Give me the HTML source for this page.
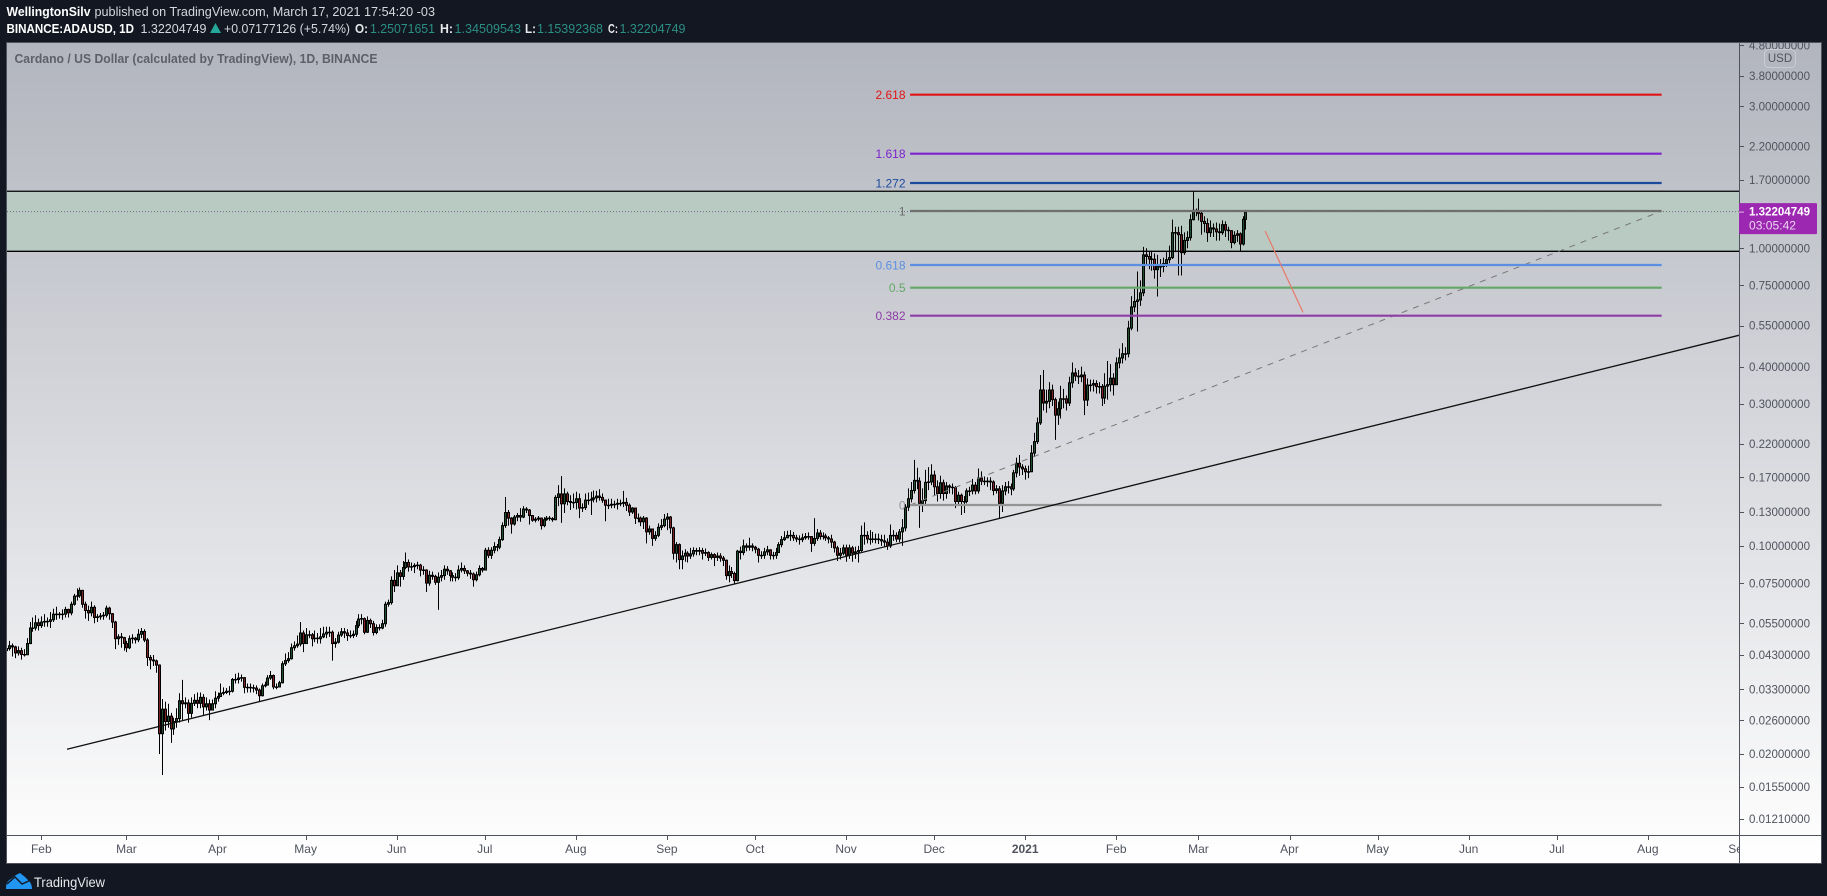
<!DOCTYPE html>
<html lang="en">
<head>
<meta charset="utf-8">
<title>Cardano / US Dollar chart</title>
<style>
html,body{margin:0;padding:0;background:#131722;width:1827px;height:896px;overflow:hidden}
svg{display:block;font-family:"Liberation Sans",sans-serif}
</style>
</head>
<body>
<svg id="root" xmlns="http://www.w3.org/2000/svg" width="1827" height="896" viewBox="0 0 1827 896">
<defs>
<linearGradient id="bgGrad" x1="0" y1="0" x2="0" y2="1"><stop offset="0" stop-color="#b2b5be"/><stop offset="1" stop-color="#ffffff"/></linearGradient>
<clipPath id="plotClip"><rect x="7" y="43" width="1732" height="792"/></clipPath>
<clipPath id="priceClip"><rect x="1739" y="43" width="82" height="792"/></clipPath>
<clipPath id="timeClip"><rect x="7" y="835" width="1732" height="28"/></clipPath>
</defs>
<rect x="0" y="0" width="1827" height="896" fill="#131722"/>
<text x="6.5" y="16" font-size="13" font-weight="bold" fill="#ffffff" textLength="84" lengthAdjust="spacingAndGlyphs">WellingtonSilv</text>
<text x="94.5" y="16" font-size="13" fill="#d6d8de" textLength="340.5" lengthAdjust="spacingAndGlyphs">published on TradingView.com, March 17, 2021 17:54:20 -03</text>
<g font-size="13">
<text x="6.5" y="33" font-weight="bold" fill="#ffffff" textLength="127.5" lengthAdjust="spacingAndGlyphs">BINANCE:ADAUSD, 1D</text>
<text x="140.5" y="33" fill="#d6d8de" textLength="66" lengthAdjust="spacingAndGlyphs">1.32204749</text>
<polygon points="210,33 221,33 215.5,23" fill="#26a69a"/>
<text x="224" y="33" fill="#d6d8de" textLength="126" lengthAdjust="spacingAndGlyphs">+0.07177126 (+5.74%)</text>
<text x="355" y="33" font-weight="bold" fill="#e8e9ec" textLength="13" lengthAdjust="spacingAndGlyphs">O:</text>
<text x="370" y="33" fill="#2b8f84" textLength="65" lengthAdjust="spacingAndGlyphs">1.25071651</text>
<text x="440" y="33" font-weight="bold" fill="#e8e9ec" textLength="13" lengthAdjust="spacingAndGlyphs">H:</text>
<text x="454.5" y="33" fill="#2b8f84" textLength="66.5" lengthAdjust="spacingAndGlyphs">1.34509543</text>
<text x="525" y="33" font-weight="bold" fill="#e8e9ec" textLength="11" lengthAdjust="spacingAndGlyphs">L:</text>
<text x="537" y="33" fill="#2b8f84" textLength="66" lengthAdjust="spacingAndGlyphs">1.15392368</text>
<text x="608" y="33" font-weight="bold" fill="#e8e9ec" textLength="10" lengthAdjust="spacingAndGlyphs">C:</text>
<text x="619.5" y="33" fill="#2b8f84" textLength="66" lengthAdjust="spacingAndGlyphs">1.32204749</text>
</g>
<rect x="6.5" y="42.5" width="1815" height="821" fill="url(#bgGrad)" stroke="#50535e" stroke-width="1"/>
<g id="zone"></g>
<g id="candles" clip-path="url(#plotClip)"></g>
<g id="drawings" clip-path="url(#plotClip)"></g>
<text x="14.5" y="63" font-size="13" font-weight="bold" fill="#5d606b" textLength="363" lengthAdjust="spacingAndGlyphs">Cardano / US Dollar (calculated by TradingView), 1D, BINANCE</text>
<line x1="1739.5" y1="43" x2="1739.5" y2="863" stroke="#50535e"/>
<line x1="7" y1="835.5" x2="1821" y2="835.5" stroke="#50535e"/>
<g id="priceAxis" clip-path="url(#priceClip)"></g>
<g id="timeAxis" clip-path="url(#timeClip)"></g>
<g id="lastPrice"></g>
<g>
<rect x="1764.5" y="49.5" width="31" height="18" rx="4" fill="none" stroke="#c9ccd3"/>
<text x="1780" y="62" font-size="11.5" fill="#50535e" text-anchor="middle">USD</text>
</g>
<g>
<path d="M6 889 C6 884 7 881 11 879 L16 875 L20 873 L25 877 L29 881 C31 883 32 886 32 889 Z" fill="#2196f3"/>
<path d="M7 884 L15 877 L22 884 L31 880" fill="none" stroke="#131722" stroke-width="1.4"/>
<text x="34" y="887" font-size="14" fill="#e8e9ec" textLength="71" lengthAdjust="spacingAndGlyphs">TradingView</text>
</g>
<script>
const firstDay = -12;
const firstOpen = 0.0445;
const closes = [
.0452,.0462,.0458,.0437,.0445,.0432,.0431,.0470,.0530,.0530,.0552,.0540,
.0555,.0558,.0558,.0565,.0590,.0588,.0590,.0590,.0612,.0596,.0637,.0678,.0680,.0709,.0637,.0607,.0596,.0622,.0575,.0578,.0582,.0585,.0618,.0592,.0555,.0488,.0495,.0492,.0470,
.0455,.0488,.0490,.0484,.0505,.0516,.0483,.0422,.0414,.0411,.0398,.0234,.0283,.0257,.0268,.0243,.0257,.0263,.0302,.0295,.0297,.0274,.0296,.0303,.0296,.0310,.0288,.0295,.0281,.0295,.0308,
.0312,.0320,.0322,.0325,.0325,.0356,.0356,.0360,.0361,.0335,.0335,.0334,.0333,.0328,.0314,.0339,.0341,.0360,.0367,.0336,.0336,.0347,.0402,.0412,.0418,.0455,.0462,.0468,.0510,.0470,
.0503,.0503,.0488,.0490,.0488,.0495,.0506,.0513,.0513,.0470,.0475,.0502,.0515,.0510,.0500,.0500,.0505,.0540,.0568,.0570,.0513,.0562,.0548,.0512,.0532,.0530,.0548,.0637,.0645,.0766,.0735,
.0812,.0790,.0846,.0880,.0850,.0852,.0860,.0862,.0830,.0830,.0750,.0797,.0790,.0755,.0785,.0795,.0835,.0825,.0795,.0785,.0782,.0830,.0840,.0825,.0810,.0805,.0770,.0800,.0840,.0830,
.0967,.0930,.0967,.0995,.0990,.1050,.1170,.1295,.1240,.1185,.1250,.1265,.1250,.1330,.1320,.1265,.1220,.1230,.1240,.1170,.1225,.1240,.1235,.1225,.1455,.1495,.1385,.1495,.1410,.1400,.1400,
.1440,.1340,.1345,.1425,.1425,.1435,.1450,.1470,.1455,.1425,.1370,.1370,.1380,.1380,.1390,.1390,.1400,.1370,.1300,.1340,.1240,.1240,.1205,.1240,.1115,.1140,.1060,.1085,.1155,.1170,.1230,
.1250,.1150,.0945,.1010,.0900,.0925,.0945,.0925,.0940,.0965,.0960,.0965,.0945,.0950,.0915,.0935,.0915,.0925,.0910,.0895,.0795,.0820,.0808,.0765,.0960,.0950,.1000,.0990,.1000,.0990,
.0975,.0930,.0930,.0955,.0970,.0930,.0930,.0950,.1010,.1050,.1065,.1085,.1085,.1065,.1055,.1050,.1065,.1075,.1075,.1020,.1060,.1105,.1075,.1080,.1065,.1055,.1030,.0985,.0930,.0945,.0985,
.0930,.0985,.0945,.0955,.0965,.1085,.1085,.1055,.1055,.1055,.1055,.1050,.1040,.1030,.1000,.1085,.1085,.1055,.1115,.1150,.1350,.1440,.1535,.1660,.1650,.1390,.1420,.1635,.1640,.1730,
.1580,.1500,.1630,.1500,.1590,.1575,.1570,.1410,.1480,.1410,.1410,.1530,.1530,.1600,.1530,.1690,.1650,.1650,.1650,.1640,.1535,.1555,.1390,.1530,.1580,.1580,.1555,.1760,.1895,.1840,.1815,
.1775,.1775,.2050,.2240,.2590,.3340,.3020,.3060,.3340,.3100,.2750,.2890,.3120,.3120,.3020,.3530,.3810,.3720,.3700,.3750,.3090,.3470,.3470,.3510,.3430,.3430,.3140,.3440,.3480,.3660,.3480,
.4120,.4280,.4420,.4420,.5390,.6350,.6620,.6700,.7080,.9500,.9380,.9200,.9180,.8470,.8680,.8680,.8880,.9150,.9300,1.128,1.128,1.110,.9660,1.062,1.085,1.247,1.340,1.330,
1.310,1.230,1.210,1.128,1.170,1.160,1.135,1.128,1.200,1.150,1.145,1.045,1.105,1.118,1.033,1.250,1.322
];
const highs = [
.0475,.0480,.0470,.0462,.0460,.0455,.0450,.0490,.0555,.0575,.0585,.0570,
.0580,.0590,.0575,.0600,.0615,.0625,.0600,.0612,.0625,.0615,.0650,.0690,.0720,.0725,.0712,.0650,.0630,.0650,.0632,.0590,.0595,.0600,.0630,.0625,.0595,.0560,.0505,.0510,.0495,
.0480,.0500,.0505,.0495,.0525,.0530,.0525,.0490,.0430,.0430,.0415,.0400,.0306,.0300,.0295,.0275,.0265,.0285,.0320,.0355,.0310,.0305,.0310,.0318,.0322,.0322,.0318,.0310,.0305,.0305,.0325,
.0322,.0345,.0335,.0333,.0338,.0360,.0372,.0375,.0370,.0362,.0345,.0345,.0342,.0340,.0332,.0345,.0350,.0368,.0380,.0370,.0345,.0352,.0410,.0435,.0440,.0470,.0478,.0500,.0555,.0520,
.0530,.0520,.0510,.0520,.0510,.0530,.0535,.0535,.0535,.0520,.0490,.0515,.0530,.0530,.0525,.0520,.0520,.0560,.0590,.0590,.0575,.0580,.0570,.0560,.0545,.0545,.0565,.0650,.0660,.0790,.0830,
.0860,.0830,.0890,.0950,.0900,.0880,.0875,.0885,.0870,.0855,.0835,.0825,.0820,.0800,.0815,.0830,.0860,.0855,.0830,.0815,.0810,.0860,.0880,.0860,.0830,.0830,.0815,.0820,.0860,.0850,
.0985,.0990,.0990,.1030,.1015,.1075,.1200,.1460,.1320,.1250,.1270,.1290,.1340,.1360,.1350,.1330,.1265,.1250,.1260,.1245,.1250,.1260,.1260,.1250,.1480,.1600,.1715,.1560,.1520,.1480,.1500,
.1520,.1500,.1390,.1500,.1510,.1520,.1535,.1530,.1550,.1500,.1430,.1440,.1440,.1420,.1440,.1430,.1530,.1450,.1390,.1350,.1345,.1285,.1255,.1260,.1250,.1170,.1140,.1120,.1190,.1230,.1280,
.1290,.1260,.1160,.1030,.1020,.0965,.0975,.0960,.0985,.0990,.0985,.0990,.0985,.0980,.0960,.0950,.0945,.0950,.0945,.0925,.0900,.0860,.0850,.0820,.0970,.0995,.1050,.1020,.1065,.1020,
.1000,.0985,.0960,.0985,.1000,.0975,.0955,.0985,.1030,.1080,.1120,.1125,.1130,.1115,.1090,.1085,.1100,.1105,.1110,.1080,.1240,.1140,.1130,.1110,.1100,.1080,.1090,.1040,.1000,.0985,.1010,
.1010,.1010,.1000,.0995,.1000,.1170,.1200,.1120,.1130,.1115,.1100,.1100,.1090,.1090,.1060,.1180,.1130,.1110,.1140,.1230,.1380,.1560,.1640,.1945,.1830,.1700,.1560,.1800,.1840,.1880,
.1790,.1660,.1720,.1670,.1640,.1610,.1620,.1590,.1520,.1500,.1470,.1560,.1580,.1680,.1640,.1820,.1780,.1710,.1700,.1700,.1660,.1600,.1590,.1600,.1640,.1650,.1620,.1800,.1980,.2020,.1880,
.1860,.1860,.2180,.2400,.2700,.3750,.3900,.3350,.3550,.3480,.3150,.3050,.3450,.3370,.3200,.3700,.4130,.3950,.3900,.4000,.3850,.3650,.3620,.3620,.3600,.3550,.3500,.3800,.4180,.4080,.3800,
.4300,.4600,.4800,.4650,.5700,.6900,.7300,.8350,.7800,1.010,1.000,.9800,.9800,.9600,.9500,.9200,.9300,.9700,1.020,1.247,1.180,1.180,1.190,1.130,1.140,1.300,1.553,1.360,
1.467,1.340,1.280,1.260,1.240,1.210,1.220,1.210,1.240,1.230,1.180,1.150,1.140,1.150,1.130,1.280,1.345
];
const lows = [
.0435,.0445,.0425,.0420,.0428,.0415,.0425,.0430,.0468,.0515,.0520,.0520,
.0530,.0535,.0535,.0530,.0555,.0565,.0570,.0565,.0575,.0575,.0585,.0630,.0655,.0670,.0620,.0570,.0560,.0580,.0550,.0555,.0565,.0565,.0575,.0565,.0530,.0450,.0465,.0455,.0445,
.0440,.0450,.0470,.0470,.0475,.0490,.0475,.0395,.0385,.0395,.0375,.0200,.0170,.0240,.0245,.0218,.0232,.0245,.0255,.0260,.0285,.0255,.0265,.0290,.0285,.0285,.0270,.0280,.0260,.0280,.0285,
.0300,.0312,.0315,.0318,.0315,.0322,.0345,.0345,.0350,.0320,.0322,.0322,.0322,.0318,.0300,.0312,.0335,.0340,.0355,.0330,.0330,.0335,.0345,.0395,.0405,.0415,.0445,.0455,.0460,.0440,
.0470,.0490,.0460,.0475,.0470,.0470,.0490,.0490,.0495,.0412,.0455,.0470,.0495,.0490,.0480,.0490,.0490,.0495,.0530,.0545,.0505,.0510,.0530,.0500,.0505,.0520,.0525,.0535,.0625,.0635,.0700,
.0750,.0730,.0770,.0835,.0820,.0825,.0810,.0835,.0790,.0800,.0700,.0735,.0770,.0740,.0610,.0760,.0770,.0800,.0760,.0760,.0760,.0770,.0815,.0805,.0790,.0775,.0730,.0760,.0790,.0815,
.0830,.0910,.0905,.0945,.0960,.0975,.1040,.1150,.1170,.1100,.1170,.1210,.1205,.1240,.1290,.1180,.1205,.1200,.1210,.1135,.1155,.1215,.1215,.1205,.1220,.1360,.1195,.1290,.1370,.1320,.1340,
.1325,.1240,.1300,.1320,.1375,.1270,.1400,.1400,.1420,.1395,.1210,.1330,.1340,.1340,.1325,.1360,.1350,.1310,.1260,.1280,.1185,.1200,.1165,.1140,.1020,.1090,.1000,.1040,.1070,.1130,.1155,
.1130,.1100,.0900,.0880,.0835,.0835,.0885,.0880,.0905,.0920,.0930,.0930,.0900,.0925,.0890,.0900,.0855,.0890,.0885,.0855,.0770,.0755,.0780,.0745,.0760,.0900,.0930,.0960,.0965,.0960,
.0945,.0880,.0905,.0905,.0930,.0900,.0900,.0905,.0950,.0990,.1040,.1060,.1040,.1040,.1030,.1010,.1030,.1050,.1050,.0955,.1000,.1040,.1050,.1050,.1040,.1020,.0985,.0950,.0890,.0900,.0930,
.0885,.0905,.0885,.0905,.0880,.0955,.1010,.1020,.1010,.1025,.1020,.1015,.1000,.0990,.0970,.0985,.1040,.1030,.1030,.1000,.1120,.1310,.1400,.1500,.1550,.1150,.1300,.1380,.1540,.1600,
.1480,.1410,.1440,.1420,.1440,.1500,.1490,.1340,.1370,.1270,.1290,.1390,.1470,.1490,.1490,.1500,.1600,.1600,.1580,.1540,.1480,.1500,.1240,.1300,.1480,.1500,.1480,.1530,.1700,.1720,.1730,
.1670,.1690,.1770,.1990,.2200,.2550,.2850,.2800,.2900,.2950,.2270,.2550,.2680,.2900,.2850,.2950,.3400,.3580,.3500,.3550,.2750,.2950,.3300,.3300,.3250,.3250,.2950,.3000,.3100,.3300,.3200,
.3500,.3950,.4100,.4200,.4300,.5300,.6100,.5250,.6400,.6900,.8800,.8500,.8400,.7900,.6880,.8000,.8300,.8650,.8900,.9200,.9700,.8100,.8100,.9500,1.000,1.060,1.240,1.280,
1.240,1.110,1.130,1.050,1.090,1.090,1.060,1.060,1.110,1.090,1.060,1.000,1.030,1.050,.9800,1.020,1.154
];
const priceTicks = [4.8,3.8,3,2.2,1.7,1,0.75,0.55,0.4,0.3,0.22,0.17,0.13,0.1,0.075,0.055,0.043,0.033,0.026,0.02,0.0155,0.0121];
const monthLabels = ["Feb","Mar","Apr","May","Jun","Jul","Aug","Sep","Oct","Nov","Dec","2021","Feb","Mar","Apr","May","Jun","Jul","Aug","Sep"];
const monthDays = [0,29,60,90,121,151,182,213,243,274,304,335,366,394,425,455,486,516,547,578];
const fibNames = ["2.618","1.618","1.272","1","0.618","0.5","0.382","0"];
const fibPrices = [3.278,2.077,1.656,1.333,0.878,0.7367,0.5933,0.1372];
const fibColors = ["#e01414","#7d22cc","#1c4a9c","#6f6f6f","#5b8fe2","#62a866","#8e3ca6","#959595"];
const fibStartDay = 295.8;
const fibEndDay = 551.7;
const zonePrices = [1.553,0.9763];
const supportDays = [8.75,578];
const supportPrices = [0.02075,0.5098];
const targetDays = [416.7,429.6];
const targetPrices = [1.142,0.6086];
const lastPrice = 1.32204749;
const countdown = "03:05:42";

const SVGNS = "http://www.w3.org/2000/svg";
function xOf(day){ return 41.3 + 2.937 * day; }
function yOf(price){ return 248.2 - 129.3 * Math.log(price); }
function make(tag, attrs, parent, text){
  const el = document.createElementNS(SVGNS, tag);
  for (const k in attrs) el.setAttribute(k, attrs[k]);
  if (text !== undefined) el.textContent = text;
  parent.appendChild(el);
  return el;
}

const zoneG = document.getElementById("zone");
const zoneTop = yOf(zonePrices[0]), zoneBottom = yOf(zonePrices[1]);
const zoneFill = make("rect", {x:7, y:zoneTop, width:1732, height:zoneBottom-zoneTop, fill:"#b9cac3"}, zoneG);



const candleG = document.getElementById("candles");
closes.forEach(function(close, i){
  const open = i === 0 ? firstOpen : closes[i-1];
  const cx = Math.round(xOf(firstDay + i)) + 0.5;
  const up = close >= open;
  const wick = make("line", {x1:cx, x2:cx, y1:yOf(highs[i]), y2:yOf(lows[i]), stroke:"#000", "stroke-width":1}, candleG);
  
  
  const top = yOf(Math.max(open, close)), bot = yOf(Math.min(open, close));
  const body = make("rect", {x:cx-1, y:top, width:2, height:Math.max(bot-top, 0.5), fill:up ? "#1f4f2e" : "#7f2222", stroke:"#000", "stroke-width":1}, candleG);
  
  
});

const drawG = document.getElementById("drawings");
const lastLine = make("line", {x1:7, x2:1739, y1:yOf(lastPrice)-0.5, y2:yOf(lastPrice)-0.5, stroke:"#6f6480", "stroke-width":1, "stroke-dasharray":"1 2"}, drawG);


zonePrices.forEach(function(p){
  const zl = make("line", {x1:7, x2:1739, y1:yOf(p), y2:yOf(p), stroke:"#000", "stroke-width":1.3}, drawG);
  
  
});
const fibDiag = make("line", {x1:xOf(fibStartDay), y1:yOf(fibPrices[7]), x2:xOf(fibEndDay), y2:yOf(fibPrices[3]), stroke:"#777", "stroke-width":1, "stroke-dasharray":"6 6"}, drawG);


fibPrices.forEach(function(p, i){
  const l = make("line", {x1:xOf(fibStartDay), x2:xOf(fibEndDay), y1:yOf(p), y2:yOf(p), stroke:fibColors[i], "stroke-width":2.2}, drawG);
  
  
  const t = make("text", {x:905.5, y:yOf(p)+4.5, "font-size":12, fill:fibColors[i], "text-anchor":"end"}, drawG, fibNames[i]);
  
  
});
const support = make("line", {x1:xOf(supportDays[0]), y1:yOf(supportPrices[0]), x2:xOf(supportDays[1]), y2:yOf(supportPrices[1]), stroke:"#111", "stroke-width":1.3}, drawG);


const target = make("line", {x1:xOf(targetDays[0]), y1:yOf(targetPrices[0]), x2:xOf(targetDays[1]), y2:yOf(targetPrices[1]), stroke:"#e8796a", "stroke-width":1.2}, drawG);



const priceG = document.getElementById("priceAxis");
priceTicks.forEach(function(p){
  const y = yOf(p);
  const tick = make("line", {x1:1739, x2:1744, y1:Math.round(y)+0.5, y2:Math.round(y)+0.5, stroke:"#50535e"}, priceG);
  
  
  const lab = make("text", {x:1749, y:y+4.2, "font-size":11.5, fill:"#50535e", textLength:61, lengthAdjust:"spacingAndGlyphs"}, priceG, p.toFixed(8));
  
  
});

const timeG = document.getElementById("timeAxis");
monthLabels.forEach(function(name, i){
  const x = xOf(monthDays[i]);
  const tick = make("line", {x1:Math.round(x)+0.5, x2:Math.round(x)+0.5, y1:835, y2:840, stroke:"#50535e"}, timeG);
  
  
  const lab = make("text", {x:x, y:853, "font-size":12, fill:"#50535e", "text-anchor":"middle", "font-weight":name === "2021" ? "bold" : "normal"}, timeG, name);
  
  
});

const lastG = document.getElementById("lastPrice");
const lastY = yOf(lastPrice);
const lastBox = make("rect", {x:1739, y:lastY-9, width:78, height:31, rx:1, fill:"#9c27b0"}, lastG);


const lastTick = make("line", {x1:1739, x2:1744, y1:lastY, y2:lastY, stroke:"#e1bee7"}, lastG);


const lastText = make("text", {x:1749, y:lastY+3.5, "font-size":11.5, "font-weight":"bold", fill:"#ffffff", textLength:61, lengthAdjust:"spacingAndGlyphs"}, lastG, lastPrice.toFixed(8));


const cdText = make("text", {x:1749, y:lastY+17.5, "font-size":11.5, fill:"#ecd5f2", textLength:47, lengthAdjust:"spacingAndGlyphs"}, lastG, countdown);


</script>
</svg>
</body>
</html>
